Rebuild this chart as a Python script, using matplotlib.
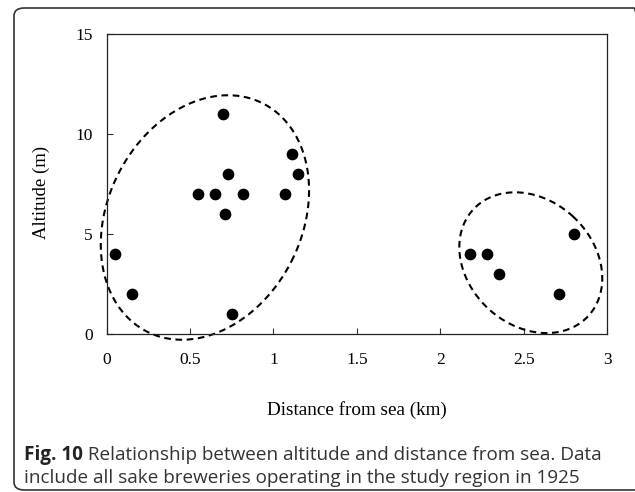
import numpy as np
import matplotlib
matplotlib.use("Agg")
import matplotlib.pyplot as plt
from matplotlib.patches import FancyBboxPatch

# breweries: distance from sea (km) and altitude (m)
dist = [0.70, 1.11, 1.15, 0.73, 0.55, 0.65, 0.82, 1.07, 0.71, 0.05, 0.15, 0.75,
        2.80, 2.18, 2.28, 2.35, 2.71]
alt = [11, 9, 8, 8, 7, 7, 7, 7, 6, 4, 2, 1,
       5, 4, 4, 3, 2]

x_ticks = [0, 0.5, 1, 1.5, 2, 2.5, 3]
x_ticklabels = ["0", "0.5", "1", "1.5", "2", "2.5", "3"]
y_ticks = [0, 5, 10, 15]

# group outlines: centre (data), half axes (px), rotation (deg)
groups = [((0.589, 5.84), 97, 128, -27),
          ((2.543, 3.58), 62.6, 78.4, 47)]

caption_bold = "Fig. 10"
caption_1 = " Relationship between altitude and distance from sea. Data"
caption_2 = "include all sake breweries operating in the study region in 1925"

fig = plt.figure(figsize=(6.35, 4.92), dpi=100)

# rounded frame around figure + caption
frame = FancyBboxPatch((14 / 635, 2 / 492), 630 / 635, 482 / 492,
                       boxstyle="round,pad=0,rounding_size=0.016",
                       transform=fig.transFigure, fill=False,
                       edgecolor="#333333", linewidth=1.2, clip_on=False)
fig.patches.append(frame)

ax = fig.add_axes([106.7 / 635, 157.7 / 492, 500.3 / 635, 300 / 492])
ax.scatter(dist, alt, s=55, color="black", zorder=3, clip_on=False)

ax.set_xlim(0, 3)
ax.set_ylim(0, 15)
ax.set_xticks(x_ticks)
ax.set_xticklabels(x_ticklabels)
ax.set_yticks(y_ticks)

serif = "Liberation Serif"
for lab in ax.get_xticklabels() + ax.get_yticklabels():
    lab.set_family(serif)
    lab.set_fontsize(12.5)
ax.tick_params(axis="both", direction="in", length=4.5, width=0.8, color="#333333")
ax.tick_params(axis="x", pad=13)
ax.tick_params(axis="y", pad=10)
for sp in ax.spines.values():
    sp.set_linewidth(0.9)
    sp.set_color("#222222")

ax.set_xlabel("Distance from sea (km)", family=serif, fontsize=13.8)
ax.set_ylabel("Altitude (m)", family=serif, fontsize=13.5)
ax.xaxis.set_label_coords(0.5, -0.222)
ax.yaxis.set_label_coords(-0.113, 0.474)

# dashed outlines drawn in display space so they stay elliptical
t = np.linspace(0, 2 * np.pi, 400)
for (cx, cy), hw, hh, ang in groups:
    c = ax.transData.transform((cx, cy))
    th = np.deg2rad(ang)
    px = hw * np.cos(t)
    py = hh * np.sin(t)
    dx = px * np.cos(th) - py * np.sin(th) + c[0]
    dy = px * np.sin(th) + py * np.cos(th) + c[1]
    pts = ax.transData.inverted().transform(np.column_stack([dx, dy]))
    ax.plot(pts[:, 0], pts[:, 1], color="black", linewidth=1.5,
            linestyle=(0, (3.2, 2.2)), clip_on=False)

t1 = fig.text(24 / 635, 1 - 460 / 492, caption_bold, family="Open Sans",
              fontweight="bold", fontsize=13.6, color="#222222", va="baseline")
fig.canvas.draw()
bb = t1.get_window_extent()
fig.text(bb.x1 / 635, 1 - 460 / 492, caption_1, family="Open Sans",
         fontsize=13.6, color="#333333", va="baseline")
fig.text(24 / 635, 1 - 483 / 492, caption_2, family="Open Sans",
         fontsize=13.6, color="#333333", va="baseline")

fig.savefig("out.png", dpi=100)
